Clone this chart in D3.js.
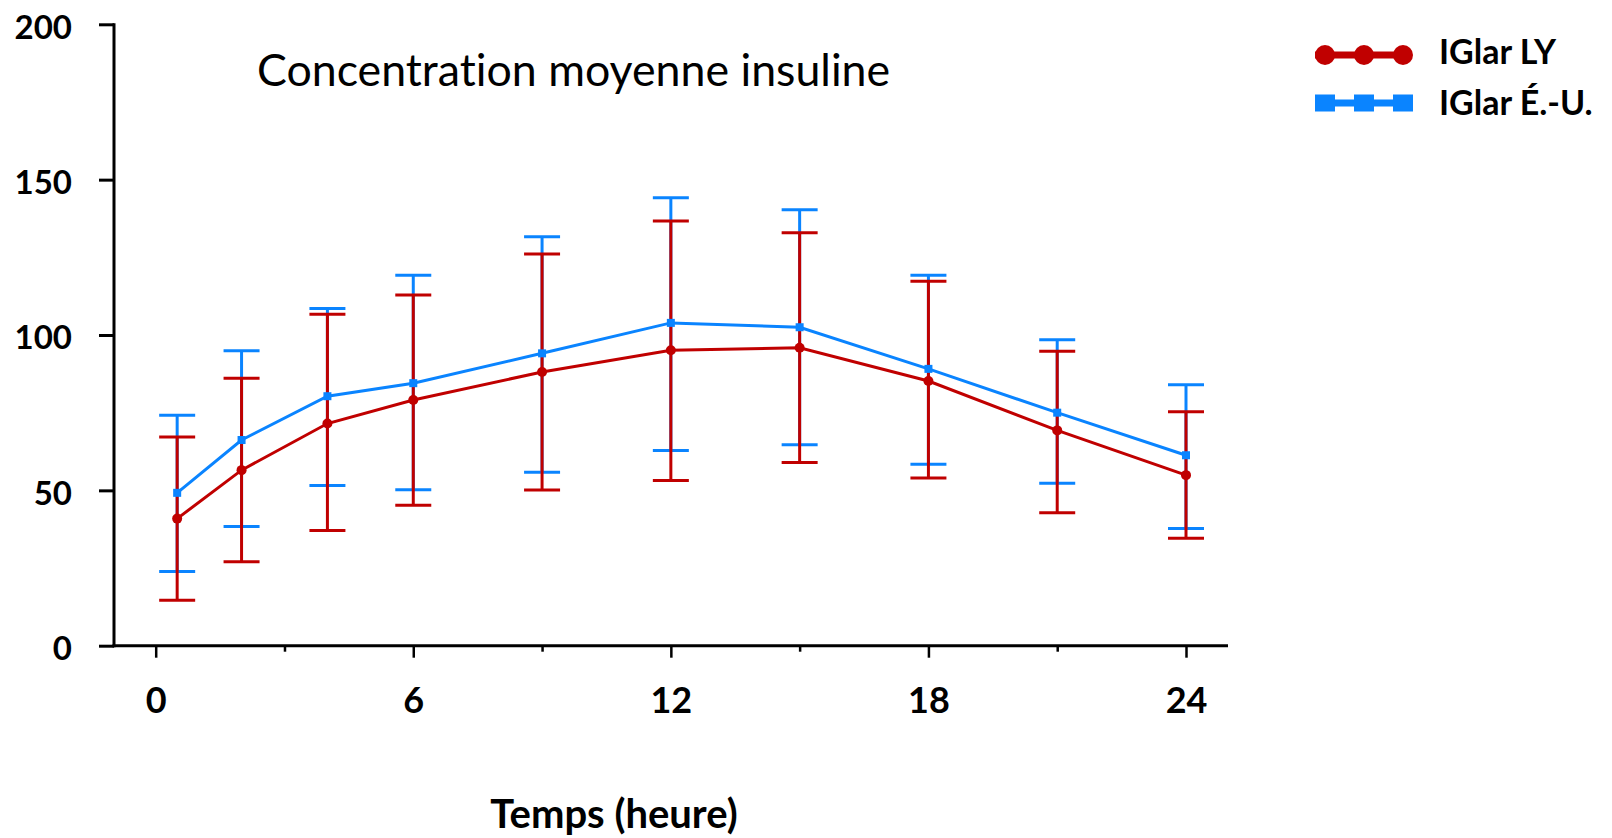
<!DOCTYPE html>
<html>
<head>
<meta charset="utf-8">
<script src="https://cdn.jsdelivr.net/npm/d3@7"></script>
<style>
  html, body { margin: 0; padding: 0; background: #fff; }
  svg { display: block; }
  text { font-variant-ligatures: none; font-feature-settings: "liga" 0; }
</style>
</head>
<body>
<script>
// ---- data ----
const times = [0.5, 2, 4, 6, 9, 12, 15, 18, 21, 24];
const lyMean  = [40.9, 56.5, 71.5, 79.1, 88.1, 95.1, 95.9, 85.2, 69.3, 54.9];
const lyUpper = [67.2, 86.1, 106.7, 112.9, 126.1, 136.7, 132.9, 117.3, 94.8, 75.3];
const lyLower = [14.6, 27.0, 37.1, 45.2, 50.1, 53.2, 59.0, 54.0, 42.8, 34.6];
const usMean  = [49.2, 66.2, 80.3, 84.5, 94.1, 103.9, 102.5, 89.1, 75.0, 61.3];
const usUpper = [74.2, 94.9, 108.5, 119.2, 131.6, 144.2, 140.3, 119.2, 98.5, 84.0];
const usLower = [23.9, 38.4, 51.6, 50.2, 55.8, 62.8, 64.7, 58.4, 52.3, 37.7];
const yTicks = [0, 50, 100, 150, 200];
const xMajorTicks = [0, 6, 12, 18, 24];
const xMinorTicks = [3, 9, 15, 21];
const seriesNames = ["IGlar LY", "IGlar É.-U."];
const titleText = "Concentration moyenne insuline";
const xTitle = "Temps (heure)";

const RED = "#c00000";
const BLUE = "#0a84ff";
const W = 1612, H = 838;

const svg = d3.select("body").append("svg").attr("width", W).attr("height", H);

const x = d3.scaleLinear().domain([0, 24]).range([155.7, 1186]);
const y = d3.scaleLinear().domain([0, 200]).range([645.7, 24.3]);

// ---- axes ----
const yAxis = svg.append("g").attr("transform", "translate(114,0)")
  .call(d3.axisLeft(y).tickValues(yTicks).tickSize(15).tickPadding(27).tickFormat(d3.format("d")));
yAxis.select(".domain").remove();
yAxis.selectAll(".tick line").attr("stroke", "#000").attr("stroke-width", 3);
yAxis.selectAll(".tick text")
  .attr("font-family", "Lato, sans-serif").attr("font-weight", 700).attr("font-size", 33)
  .attr("fill", "#000").attr("dy", "0.42em");
svg.append("line").attr("x1", 114).attr("x2", 114).attr("y1", y(200) - 1).attr("y2", y(0) + 1.5)
  .attr("stroke", "#000").attr("stroke-width", 3);

const xAxis = svg.append("g").attr("transform", `translate(0,${y(0)})`)
  .call(d3.axisBottom(x).tickValues(xMajorTicks).tickSize(12).tickPadding(30).tickFormat(d3.format("d")));
xAxis.select(".domain").remove();
xAxis.selectAll(".tick line").attr("stroke", "#000").attr("stroke-width", 2.5);
xAxis.selectAll(".tick text")
  .attr("font-family", "Lato, sans-serif").attr("font-weight", 700).attr("font-size", 36)
  .attr("fill", "#000").attr("dy", "0.71em");

const xMinor = svg.append("g").attr("transform", `translate(0,${y(0)})`)
  .call(d3.axisBottom(x).tickValues(xMinorTicks).tickSize(6).tickFormat(""));
xMinor.select(".domain").remove();
xMinor.selectAll(".tick line").attr("stroke", "#000").attr("stroke-width", 2.5);

svg.append("line").attr("x1", 112.5).attr("x2", 1228).attr("y1", y(0)).attr("y2", y(0))
  .attr("stroke", "#000").attr("stroke-width", 3);

// ---- error bars ----
function errorBars(upper, lower, color) {
  const g = svg.append("g").attr("stroke", color).attr("stroke-width", 3).attr("fill", "none");
  const idx = d3.range(times.length);
  g.selectAll("line.v").data(idx).join("line").attr("class", "v")
    .attr("x1", i => x(times[i])).attr("x2", i => x(times[i]))
    .attr("y1", i => y(upper[i])).attr("y2", i => y(lower[i]));
  g.selectAll("line.u").data(idx).join("line").attr("class", "u")
    .attr("x1", i => x(times[i]) - 18).attr("x2", i => x(times[i]) + 18)
    .attr("y1", i => y(upper[i])).attr("y2", i => y(upper[i]));
  g.selectAll("line.l").data(idx).join("line").attr("class", "l")
    .attr("x1", i => x(times[i]) - 18).attr("x2", i => x(times[i]) + 18)
    .attr("y1", i => y(lower[i])).attr("y2", i => y(lower[i]));
}
errorBars(usUpper, usLower, BLUE);
errorBars(lyUpper, lyLower, RED);

// ---- lines & markers ----
const line = d3.line().x(d => x(d[0])).y(d => y(d[1]));
const lyData = times.map((t, i) => [t, lyMean[i]]);
const usData = times.map((t, i) => [t, usMean[i]]);

svg.append("path").datum(lyData).attr("d", line)
  .attr("fill", "none").attr("stroke", RED).attr("stroke-width", 3);
svg.append("g").selectAll("circle").data(lyData).join("circle")
  .attr("cx", d => x(d[0])).attr("cy", d => y(d[1])).attr("r", 5).attr("fill", RED);

svg.append("path").datum(usData).attr("d", line)
  .attr("fill", "none").attr("stroke", BLUE).attr("stroke-width", 3);
svg.append("g").selectAll("rect").data(usData).join("rect")
  .attr("x", d => x(d[0]) - 4).attr("y", d => y(d[1]) - 4).attr("width", 8).attr("height", 8).attr("fill", BLUE);

// ---- titles ----
svg.append("text").attr("x", 257).attr("y", 86).text(titleText)
  .attr("font-family", "Lato, sans-serif").attr("font-size", 44.7).attr("fill", "#000");
svg.append("text").attr("x", 614).attr("y", 828).attr("text-anchor", "middle").text(xTitle)
  .attr("font-family", "Lato, sans-serif").attr("font-weight", 700).attr("font-size", 40).attr("fill", "#000");

// ---- legend ----
const legend = svg.append("g");
const legendRows = [
  { name: seriesNames[0], color: RED, shape: "circle", cy: 55, ty: 64 },
  { name: seriesNames[1], color: BLUE, shape: "square", cy: 103, ty: 115 }
];
const legendMarkX = [1325, 1364, 1403];
legendRows.forEach(r => {
  legend.append("line").attr("x1", 1315).attr("x2", 1412).attr("y1", r.cy).attr("y2", r.cy)
    .attr("stroke", r.color).attr("stroke-width", 7);
  legendMarkX.forEach(mx => {
    if (r.shape === "circle") {
      legend.append("circle").attr("cx", mx).attr("cy", r.cy).attr("r", 10).attr("fill", r.color);
    } else {
      legend.append("rect").attr("x", mx - 10).attr("y", r.cy - 8.5).attr("width", 20).attr("height", 17).attr("fill", r.color);
    }
  });
  legend.append("text").attr("x", 1439).attr("y", r.ty).text(r.name)
    .attr("font-family", "Lato, sans-serif").attr("font-weight", 700).attr("font-size", 34).attr("fill", "#000");
});
</script>
</body>
</html>
